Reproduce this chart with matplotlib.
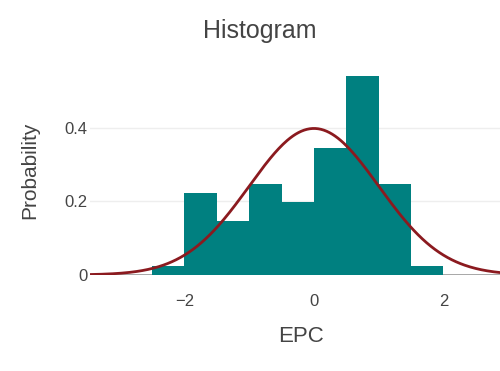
import numpy as np
import matplotlib.pyplot as plt

plt.rcParams['font.family'] = ['Liberation Sans', 'DejaVu Sans']

# histogram bins (EPC) and probability density per bin
bin_edges = [-2.5, -2.0, -1.5, -1.0, -0.5, 0.0, 0.5, 1.0, 1.5, 2.0]
density = [0.025, 0.222, 0.148, 0.247, 0.198, 0.346, 0.543, 0.247, 0.025]

# fitted normal curve
mu = 0.0
sigma = 1.0

text_color = '#444444'

fig = plt.figure(figsize=(5, 3.71), dpi=100)
ax = fig.add_axes([0.18, 0.259, 0.844, 0.566])

left = bin_edges[:-1]
widths = np.diff(bin_edges)
ax.bar(left, density, width=widths, align='edge', color='#008080', linewidth=0, zorder=2)

xs = np.linspace(-3.5, 3.0, 300)
pdf = np.exp(-0.5 * ((xs - mu) / sigma) ** 2) / (sigma * np.sqrt(2 * np.pi))
ax.plot(xs, pdf, color='#8b1a1f', lw=2, zorder=3)

ax.axhline(0, color='#999999', lw=1.2, zorder=1)
ax.set_xlim(-3.46, 3.06)
ax.set_ylim(0, 0.572)
ax.set_yticks([0, 0.2, 0.4])
ax.set_yticklabels(['0', '0.2', '0.4'])
ax.set_xticks([-2, 0, 2])
ax.set_xticklabels(['\u22122', '0', '2'])
ax.grid(axis='y', color='#eeeeee', lw=1, zorder=0)
ax.set_axisbelow(True)
for s in ax.spines.values():
    s.set_visible(False)
ax.tick_params(length=0, labelsize=12, colors=text_color)
ax.tick_params(axis='x', pad=14)
ax.tick_params(axis='y', pad=2)

ax.set_xlabel('EPC', fontsize=16, color=text_color, labelpad=12)
ax.set_ylabel('Probability', fontsize=15, color=text_color, labelpad=18)
fig.text(0.52, 0.917, 'Histogram', ha='center', va='center', fontsize=18, color=text_color)

fig.savefig('out.png', dpi=100)
